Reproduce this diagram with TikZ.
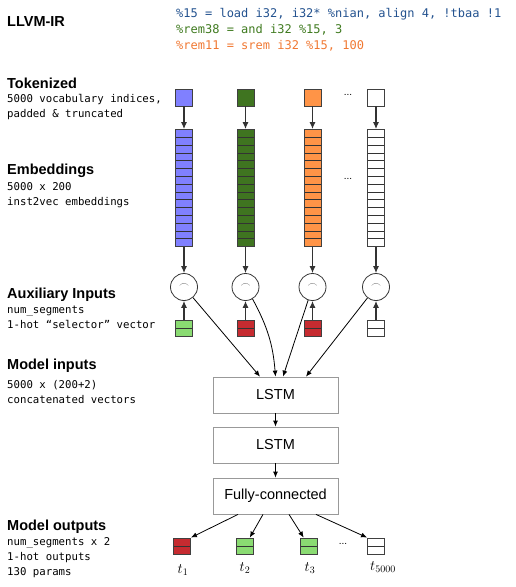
\documentclass[tikz,border=0pt]{standalone}
\usepackage{fontspec}
\setmainfont{Liberation Sans}
\setmonofont{DejaVu Sans Mono}
\usetikzlibrary{arrows.meta}
\definecolor{irblue}{HTML}{23528F}
\definecolor{irgreen}{HTML}{3F7A1F}
\definecolor{irorange}{HTML}{F07832}
\definecolor{tokblue}{HTML}{8080FF}
\definecolor{tokgreen}{HTML}{3F7420}
\definecolor{tokorange}{HTML}{FF9447}
\definecolor{hotgreen}{HTML}{8ADB72}
\definecolor{hotred}{HTML}{C62B30}
\begin{document}
\begin{tikzpicture}[x=1pt,y=-1pt,>={Latex[length=7pt,width=6pt]},
    heading/.style={anchor=west,font=\bfseries\fontsize{14.5}{16}\selectfont,inner sep=0pt},
    note/.style={anchor=west,font=\ttfamily\fontsize{10.7}{15}\selectfont,align=left,inner sep=0pt},
    code/.style={anchor=west,font=\ttfamily\fontsize{12}{15.5}\selectfont,inner sep=0pt},
    token/.style={draw=black!75,line width=0.9pt,minimum width=17pt,minimum height=17pt,inner sep=0pt},
    embcol/.style={draw=black!75,line width=0.9pt,minimum width=17pt,minimum height=117pt,inner sep=0pt,
        path picture={\foreach \k in {1,...,14}
            \draw[black!80,line width=0.8pt] ([yshift=-\k*7.8pt]path picture bounding box.north west) -- ([yshift=-\k*7.8pt]path picture bounding box.north east);}},
    hot/.style={draw=black!75,line width=0.9pt,minimum width=17pt,minimum height=16pt,inner sep=0pt,
        path picture={\draw[black!80,line width=0.9pt] (path picture bounding box.west) -- (path picture bounding box.east);}},
    concat/.style={circle,draw=black!80,line width=0.8pt,minimum size=27pt,inner sep=0pt},
    layer/.style={draw=black!40,line width=0.8pt,minimum width=125pt,minimum height=36pt,font=\fontsize{14.5}{16}\selectfont},
    tlabel/.style={font=\fontsize{14}{16}\selectfont},
    feed/.style={->,black!80,line width=1.1pt},
    link/.style={->,black,line width=0.8pt,>={Latex[length=6pt,width=5pt]}}]
\useasboundingbox (0,0) rectangle (515,587);

% left-hand labels
\node[heading] at (7,22) (hir) {LLVM-IR};
\node[heading] at (7,83) (htok) {Tokenized};
\node[note] at (7,107.5) (ntok) {5000 vocabulary indices,\\padded \& truncated};
\node[heading] at (7,171) (hemb) {Embeddings};
\node[note] at (7,195) (nemb) {5000 x 200\\inst2vec embeddings};
\node[heading] at (7,295) (haux) {Auxiliary Inputs};
\node[note] at (7,317) (naux) {num\_segments\\1-hot “selector” vector};
\node[heading] at (7,366) (hin) {Model inputs};
\node[note] at (7,392) (nin) {5000 x (200+2)\\concatenated vectors};
\node[heading] at (7,527) (hout) {Model outputs};
\node[note] at (7,558) (nout) {num\_segments x 2\\1-hot outputs\\130 params};

% IR statements
\node[code,text=irblue] at (176,14) (ir1) {\%15 = load i32, i32* \%nian, align 4, !tbaa !1};
\node[code,text=irgreen] at (176,30) (ir2) {\%rem38 = and i32 \%15, 3};
\node[code,text=irorange] at (176,45.5) (ir3) {\%rem11 = srem i32 \%15, 100};

% tokens, embeddings, concatenation
\node[token,fill=tokblue] at (184,97.5) (tok1) {};
\node[token,fill=tokgreen] at (245.5,97.5) (tok2) {};
\node[token,fill=tokorange] at (312.5,97.5) (tok3) {};
\node[token,fill=white] at (376,97.5) (tok4) {};
\node at (348,95) (dots1) {...};

\node[embcol,fill=tokblue] at (184,188) (emb1) {};
\node[embcol,fill=tokgreen] at (245.5,188) (emb2) {};
\node[embcol,fill=tokorange] at (312.5,188) (emb3) {};
\node[embcol,fill=white] at (376,188) (emb4) {};
\node at (348,179) (dots2) {...};

\node[concat] at (184,287) (cat1) {\raisebox{2pt}{\color{black!70}$\frown$}};
\node[concat] at (245.5,287) (cat2) {\raisebox{2pt}{\color{black!70}$\frown$}};
\node[concat] at (312.5,287) (cat3) {\raisebox{2pt}{\color{black!70}$\frown$}};
\node[concat] at (376,287) (cat4) {\raisebox{2pt}{\color{black!70}$\frown$}};

\node[hot,fill=hotgreen] at (184,328) (aux1) {};
\node[hot,fill=hotred] at (245.5,328) (aux2) {};
\node[hot,fill=hotred] at (312.5,328) (aux3) {};
\node[hot,fill=white] at (376,328) (aux4) {};

% model
\node[layer] at (275.5,395) (lstma) {LSTM};
\node[layer] at (275.5,445) (lstmb) {LSTM};
\node[layer] at (275.5,496) (fc) {Fully-connected};

% outputs
\node[hot,fill=hotred] at (182,546) (out1) {};
\node[hot,fill=hotgreen] at (245,546) (out2) {};
\node[hot,fill=hotgreen] at (309,546) (out3) {};
\node[hot,fill=white] at (376,546) (out4) {};
\node at (343,544) (dots3) {...};
\node[tlabel] at (183,570) (lab1) {$t_1$};
\node[tlabel] at (245,568) (lab2) {$t_2$};
\node[tlabel] at (310,568) (lab3) {$t_3$};
\node[tlabel] at (383,567) (lab4) {$t_{5000}$};

\path[feed] (tok1) edge (emb1) (tok2) edge (emb2) (tok3) edge (emb3) (tok4) edge (emb4);
\path[feed] (emb1) edge (cat1) (emb2) edge (cat2) (emb3) edge (cat3) (emb4) edge (cat4);
\path[feed] (aux1) edge (cat1) (aux2) edge (cat2) (aux3) edge (cat3) (aux4) edge (cat4);

\path[link] (cat1) edge ([xshift=-15.5pt]lstma.north);
\path[link] (cat2) edge[bend left=12] ([xshift=0pt]lstma.north);
\path[link] (cat3) edge ([xshift=7.5pt]lstma.north);
\path[link] (cat4) edge ([xshift=30.5pt]lstma.north);
\path[link] (lstma) edge (lstmb);
\path[link] (lstmb) edge (fc);
\path[link] ([xshift=-37.5pt]fc.south) edge (out1.north east);
\path[link] ([xshift=-12.5pt]fc.south) edge (out2);
\path[link] ([xshift=13.5pt]fc.south) edge (out3);
\path[link] ([xshift=40.5pt]fc.south) edge (out4.north west);
\end{tikzpicture}
\end{document}
